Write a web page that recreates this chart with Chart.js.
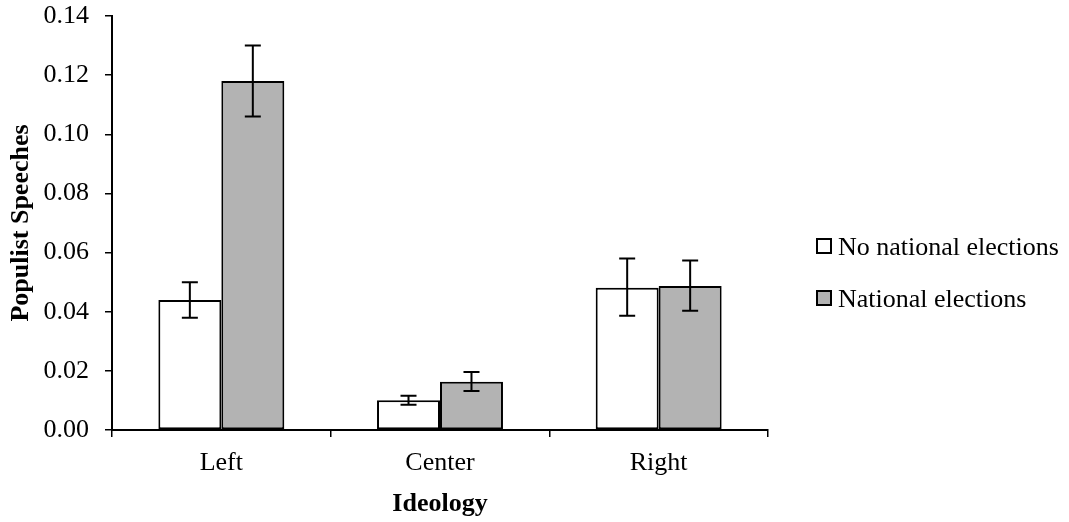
<!DOCTYPE html>
<html>
<head>
<meta charset="utf-8">
<script src="https://cdn.jsdelivr.net/npm/chart.js@4/dist/chart.umd.min.js"></script>
<style>
  html, body { margin: 0; padding: 0; background: #fff; }
  #wrap { width: 1069px; height: 522px; }
</style>
</head>
<body>
<div id="wrap"><canvas id="ideologyChart"></canvas></div>
<script>
const categories = ["Left", "Center", "Right"];
const seriesNames = ["No national elections", "National elections"];
const noElection = [0.044, 0.0101, 0.0481];
const noElectionLow = [0.038, 0.0085, 0.0386];
const noElectionHigh = [0.050, 0.0116, 0.058];
const election = [0.118, 0.0163, 0.0487];
const electionLow = [0.106, 0.0132, 0.0403];
const electionHigh = [0.130, 0.0196, 0.0573];
const yTicks = [0, 0.02, 0.04, 0.06, 0.08, 0.10, 0.12, 0.14];

const serif = "'Liberation Serif', 'Times New Roman', serif";

// draws the error bars on top of each bar
const errorBars = {
    id: "errorBars",
    afterDatasetsDraw(chart) {
        const ctx = chart.ctx;
        const y = chart.scales.y;
        const ranges = [[noElectionLow, noElectionHigh], [electionLow, electionHigh]];
        ctx.save();
        ctx.strokeStyle = "#000";
        ctx.lineWidth = 2;
        chart.data.datasets.forEach((ds, di) => {
            const meta = chart.getDatasetMeta(di);
            meta.data.forEach((bar, i) => {
                const x = bar.x;
                const top = y.getPixelForValue(ranges[di][1][i]);
                const bot = y.getPixelForValue(ranges[di][0][i]);
                ctx.beginPath();
                ctx.moveTo(x, top); ctx.lineTo(x, bot);
                ctx.moveTo(x - 8, top); ctx.lineTo(x + 8, top);
                ctx.moveTo(x - 8, bot); ctx.lineTo(x + 8, bot);
                ctx.stroke();
            });
        });
        ctx.restore();
    }
};

// legend on the right side
const sideLegend = {
    id: "sideLegend",
    afterDraw(chart) {
        const ctx = chart.ctx;
        ctx.save();
        ctx.font = "26px " + serif;
        ctx.textBaseline = "middle";
        chart.data.datasets.forEach((ds, i) => {
            const cy = 246 + i * 52;
            ctx.fillStyle = ds.backgroundColor;
            ctx.fillRect(817, cy - 7, 14, 14);
            ctx.strokeStyle = "#000";
            ctx.lineWidth = 2;
            ctx.strokeRect(817, cy - 7, 14, 14);
            ctx.fillStyle = "#000";
            ctx.fillText(ds.label, 838, cy + 2);
        });
        ctx.restore();
    }
};

new Chart(document.getElementById("ideologyChart"), {
    type: "bar",
    data: {
        labels: categories,
        datasets: [
            {
                label: seriesNames[0],
                data: noElection,
                backgroundColor: "#ffffff",
                borderColor: "#000",
                borderWidth: 2,
                borderSkipped: false,
                categoryPercentage: 0.576,
                barPercentage: 1.0
            },
            {
                label: seriesNames[1],
                data: election,
                backgroundColor: "#b3b3b3",
                borderColor: "#000",
                borderWidth: 2,
                borderSkipped: false,
                categoryPercentage: 0.576,
                barPercentage: 1.0
            }
        ]
    },
    options: {
        responsive: true,
        maintainAspectRatio: false,
        animation: false,
        plugins: {
            legend: { display: false },
            tooltip: { enabled: false }
        },
        layout: {
            padding: { top: 0, right: 301, bottom: 0, left: 0 }
        },
        scales: {
            x: {
                border: { color: "#000", width: 2 },
                grid: { display: true, drawOnChartArea: false, color: "#000", lineWidth: 1.5, tickLength: 7, offset: true },
                ticks: { color: "#000", font: { family: serif, size: 26 }, padding: 11 },
                title: { display: true, text: "Ideology", color: "#000", font: { family: serif, size: 26, weight: "bold" }, padding: { top: 4, bottom: 2 } },
                afterFit: s => { s.height = 92; }
            },
            y: {
                min: 0,
                max: 0.14,
                afterBuildTicks: s => { s.ticks = yTicks.map(v => ({ value: v })); },
                border: { color: "#000", width: 2 },
                grid: { display: true, drawOnChartArea: false, color: "#000", lineWidth: 1.5, tickLength: 7 },
                ticks: {
                    color: "#000",
                    font: { family: serif, size: 26 },
                    padding: 16,
                    callback: v => v.toFixed(2)
                },
                title: { display: true, text: "Populist Speeches", color: "#000", font: { family: serif, size: 26, weight: "bold" }, padding: { top: 6, bottom: 4 } },
                afterFit: s => {
                    s.width = 112;
                    s.paddingTop = 16;
                    s.paddingBottom = 0;
                }
            }
        }
    },
    plugins: [errorBars, sideLegend]
});
</script>
</body>
</html>
